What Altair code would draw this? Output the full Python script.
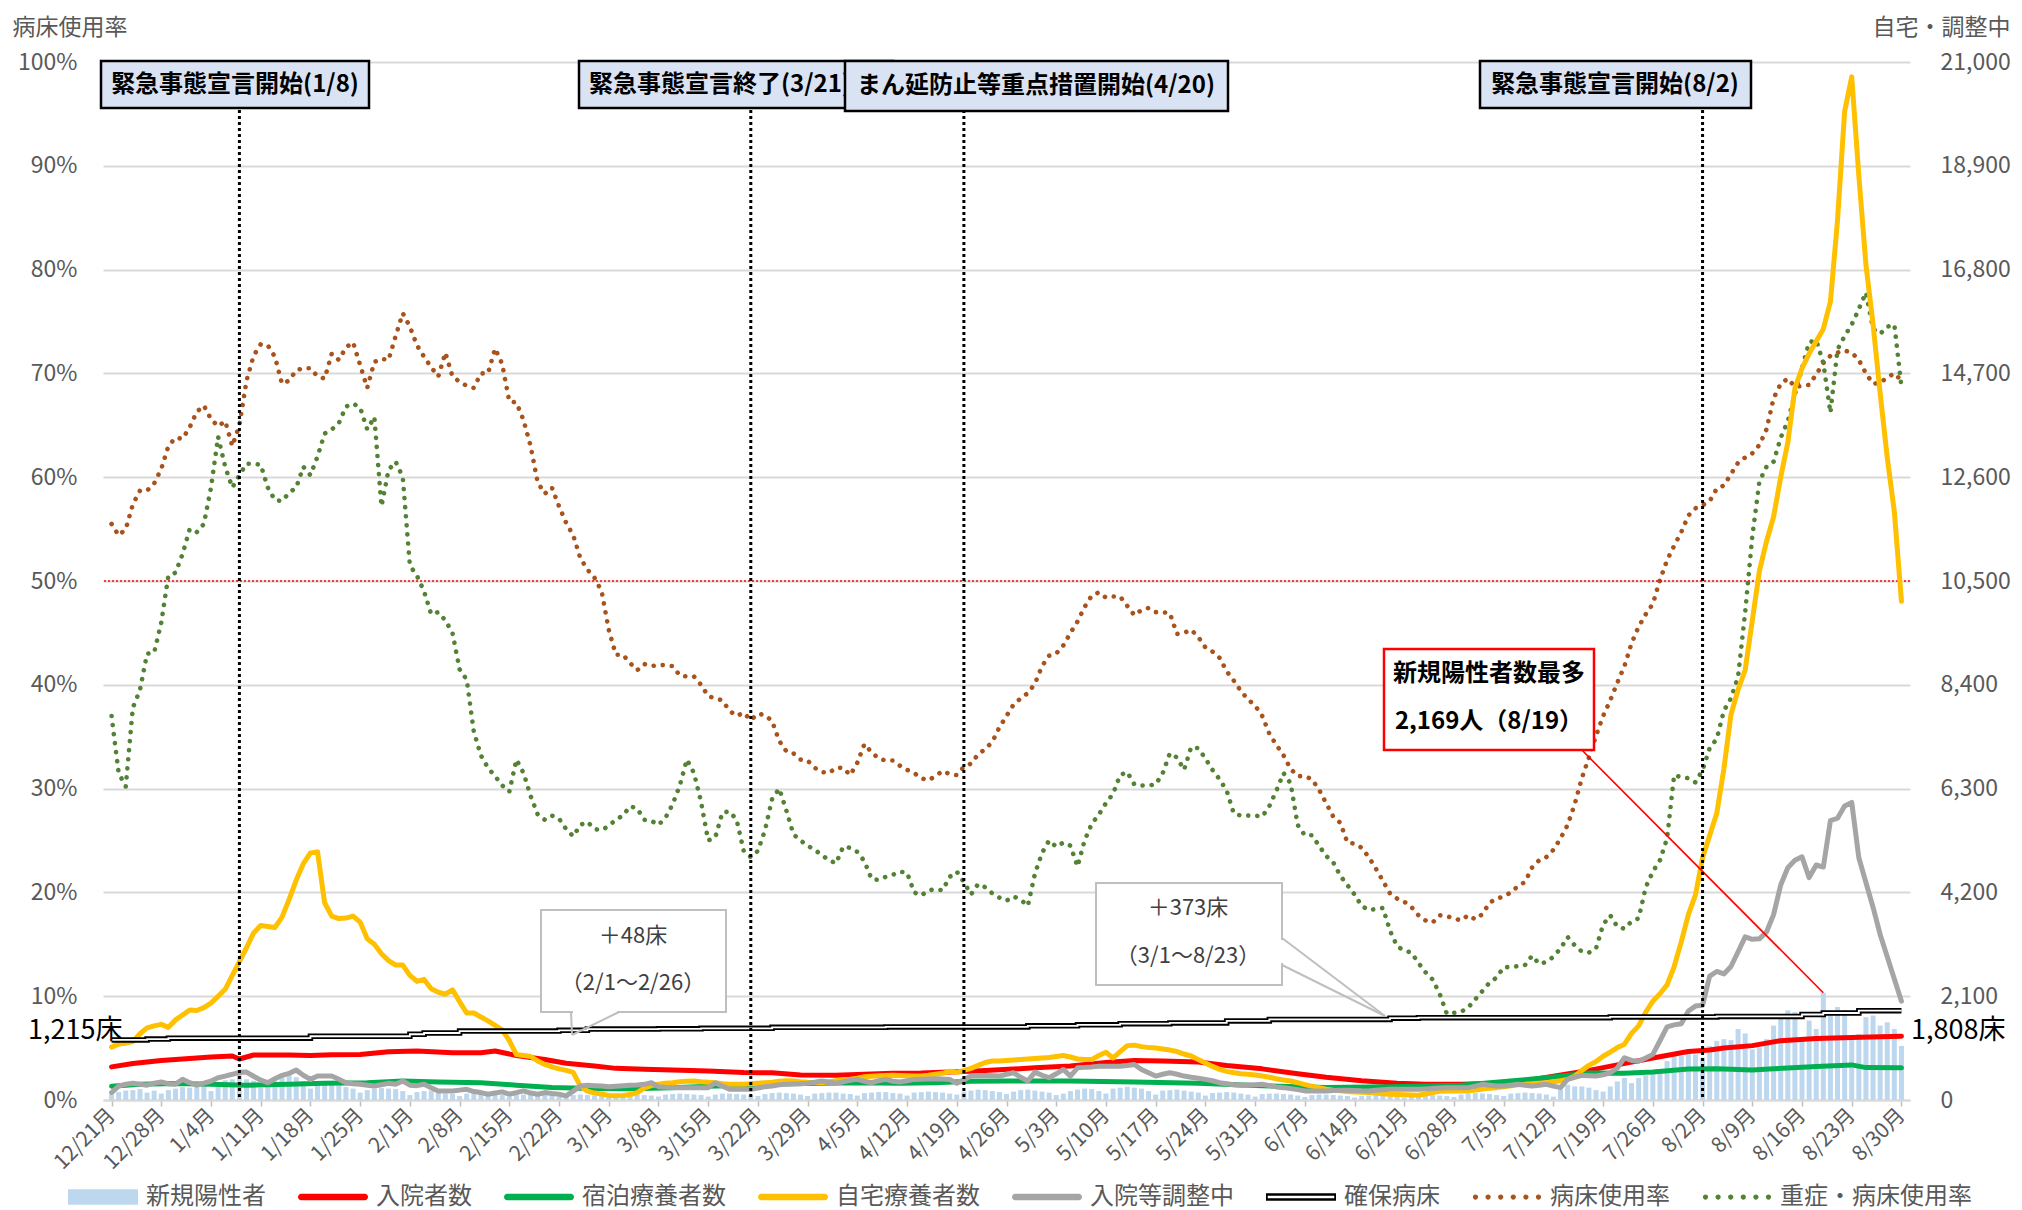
import altair as alt
import pandas as pd

FONT = "Noto Sans CJK JP"
TXT = "#595959"
GRID = "#D9D9D9"

START = "2020-12-21"

# ---- daily series (12/21 -> 8/30) ----
NEW_CASES = [
    110, 160, 190, 200, 220, 150, 190,
    130, 200, 230, 260, 250, 300, 280,
    180, 330, 400, 420, 580, 420, 390,
    250, 300, 380, 470, 520, 460, 380,
    230, 300, 330, 320, 300, 260, 230,
    150, 200, 230, 240, 230, 220, 180,
    100, 160, 180, 190, 150, 130, 120,
    80, 130, 120, 140, 120, 110, 100,
    70, 100, 110, 120, 120, 100, 90,
    60, 80, 100, 110, 100, 90, 80,
    60, 100, 110, 120, 110, 100, 90,
    70, 110, 120, 130, 120, 110, 100,
    70, 110, 130, 130, 120, 110, 100,
    80, 120, 140, 150, 140, 130, 110,
    80, 130, 140, 150, 150, 130, 120,
    90, 140, 150, 160, 160, 140, 130,
    90, 150, 160, 170, 160, 150, 130,
    110, 170, 190, 210, 200, 180, 160,
    120, 170, 200, 210, 190, 170, 150,
    100, 130, 180, 210, 230, 220, 180,
    130, 230, 250, 270, 250, 230, 180,
    110, 190, 200, 210, 190, 170, 150,
    90, 140, 150, 160, 150, 130, 110,
    70, 120, 130, 130, 120, 110, 90,
    60, 100, 110, 110, 100, 90, 80,
    50, 80, 90, 100, 90, 80, 70,
    50, 80, 100, 110, 100, 90, 80,
    60, 110, 130, 140, 130, 120, 100,
    80, 130, 140, 150, 140, 130, 110,
    68, 205, 308, 274, 274, 250, 200,
    171, 274, 376, 445, 342, 445, 500,
    547, 581, 787, 923, 889, 958, 923,
    855, 1094, 1197, 1231, 1211, 1436, 1347,
    1026, 1060, 1231, 1505, 1642, 1813, 1778,
    1265, 1607, 1436, 2169, 1813, 1881, 1813,
    1300, 1334, 1676, 1710, 1505, 1573, 1436,
    1094,
]

BED_RATE = [
    55.5, 54.4, 55.0, 57.4, 58.7, 58.7, 59.4, 60.8, 63.0, 63.8,
    63.7, 64.8, 66.3, 66.9, 65.6, 64.9, 65.4, 63.0, 65.0, 69.3,
    71.7, 72.8, 72.7, 71.6, 69.0, 69.3, 70.3, 70.5, 70.5, 69.7,
    69.5, 71.9, 71.3, 72.5, 73.0, 70.8, 68.6, 71.1, 71.4, 71.3,
    73.6, 75.8, 74.5, 72.7, 71.6, 70.6, 69.7, 72.0, 69.7, 69.2,
    68.8, 68.6, 70.0, 70.0, 72.4, 70.9, 67.3, 67.2, 65.5, 63.0,
    59.5, 58.4, 59.0, 57.2, 55.6, 54.4, 52.2, 51.1, 50.3, 49.0,
    45.3, 42.9, 42.9, 42.1, 41.4, 42.0, 41.8, 41.9, 41.9, 41.8,
    40.9, 40.8, 40.8, 40.0, 38.9, 38.7, 38.5, 37.5, 37.0, 37.3,
    36.6, 37.2, 37.1, 36.5, 34.6, 33.6, 33.4, 32.8, 32.7, 32.0,
    31.6, 31.5, 32.0, 32.0, 31.3, 32.5, 34.3, 33.5, 32.9, 32.7,
    32.7, 32.2, 31.8, 31.5, 31.0, 30.8, 31.2, 31.7, 31.4, 31.3,
    32.1, 32.4, 33.3, 33.8, 34.5, 35.9, 37.0, 38.1, 38.7, 39.2,
    40.1, 41.8, 42.8, 43.0, 43.8, 45.0, 46.1, 47.5, 48.6, 48.9,
    48.4, 48.5, 48.5, 47.6, 46.7, 47.2, 47.4, 47.0, 47.0, 46.9,
    44.9, 45.0, 45.3, 44.6, 43.6, 43.2, 42.6, 41.3, 40.4, 39.4,
    38.6, 38.0, 37.0, 35.3, 34.2, 33.2, 31.9, 31.2, 31.2, 30.9,
    29.9, 28.6, 27.3, 26.7, 24.8, 24.7, 24.3, 23.4, 22.3, 21.1,
    19.9, 19.4, 19.1, 18.6, 17.8, 17.3, 17.1, 17.8, 17.7, 17.5,
    17.3, 17.8, 17.4, 17.9, 19.0, 19.4, 19.6, 20.0, 20.6, 21.0,
    22.4, 23.1, 23.4, 24.1, 25.2, 26.5, 28.5, 31.0, 33.0, 35.1,
    37.0, 38.5, 40.2, 41.8, 44.0, 45.6, 46.8, 47.8, 50.1, 52.0,
    53.4, 54.7, 56.3, 57.0, 57.3, 57.7, 58.9, 59.2, 60.3, 61.4,
    61.9, 62.3, 63.1, 64.6, 67.6, 69.0, 69.5, 68.7, 68.8, 68.9,
    69.9, 71.0, 71.7, 72.0, 72.2, 72.0, 71.3, 70.0, 69.0, 69.1,
    69.6, 70.0, 69.3,
]

SEVERE_RATE = [
    37.0, 31.5, 30.2, 37.8, 39.5, 43.0, 43.1, 46.0, 50.5, 50.8,
    52.6, 55.0, 54.7, 55.5, 59.0, 63.9, 61.0, 59.0, 60.2, 61.3,
    61.3, 61.2, 59.0, 57.8, 57.7, 58.5, 59.0, 61.0, 60.2, 62.0,
    64.2, 64.6, 65.2, 66.8, 67.1, 66.7, 64.6, 65.8, 57.2, 60.7,
    61.5, 60.0, 51.5, 50.5, 49.0, 46.8, 47.0, 46.2, 45.0, 41.5,
    40.5, 35.5, 33.2, 32.0, 31.2, 30.3, 29.7, 32.8, 31.5, 29.3,
    27.5, 27.0, 27.4, 27.1, 26.1, 25.4, 26.5, 26.8, 26.1, 26.0,
    26.4, 27.0, 27.4, 28.3, 28.1, 27.0, 26.9, 26.5, 27.2, 28.5,
    30.3, 32.8, 31.5, 28.7, 25.0, 25.3, 27.7, 27.8, 27.0, 24.0,
    23.4, 24.0, 26.0, 29.0, 30.0, 27.9, 25.6, 25.0, 24.5, 24.1,
    23.6, 23.1, 22.8, 24.4, 24.3, 23.9, 23.0, 21.3, 21.2, 21.5,
    21.7, 22.0, 21.9, 20.0, 19.7, 20.2, 20.3, 20.2, 21.5, 22.0,
    21.0, 19.8, 20.8, 20.5, 19.9, 19.5, 19.2, 19.6, 19.3, 18.7,
    21.8, 23.8, 25.0, 24.4, 24.8, 24.5, 22.5, 25.0, 26.6, 27.5,
    28.6, 29.5, 31.3, 31.6, 30.4, 30.3, 30.3, 30.4, 31.5, 33.4,
    33.0, 31.8, 34.0, 33.9, 32.9, 31.8, 30.9, 29.8, 27.6, 27.4,
    27.4, 27.4, 27.3, 28.3, 29.8, 31.5, 30.5, 26.5, 25.5, 25.5,
    24.5, 23.5, 22.9, 21.6, 20.7, 19.8, 18.7, 18.3, 18.4, 18.5,
    16.3, 14.8, 14.4, 14.2, 13.2, 12.3, 11.6, 10.2, 8.3, 8.4,
    8.5, 8.9, 9.7, 10.5, 11.3, 11.8, 12.8, 12.8, 12.9, 13.0,
    13.9, 13.1, 13.3, 13.8, 14.6, 15.7, 14.9, 14.3, 14.2, 14.6,
    16.9, 17.8, 16.7, 16.5, 17.2, 17.5, 20.5, 22.0, 23.1, 25.2,
    31.3, 31.1, 31.0, 30.6, 31.8, 33.9, 34.8, 37.5, 38.7, 40.8,
    47.0, 54.3, 59.6, 61.0, 61.5, 63.8, 65.4, 68.0, 70.5, 73.0,
    73.2, 71.0, 66.2, 72.3, 73.6, 74.7, 76.2, 77.8, 74.3, 73.8,
    74.5, 74.7, 68.7,
]

HOME = [
    1070, 1130, 1150, 1180, 1340, 1460, 1500, 1530, 1470, 1620,
    1720, 1820, 1810, 1870, 1960, 2100, 2240, 2520, 2800, 3080,
    3380, 3530, 3510, 3490, 3700, 4060, 4450, 4780, 5000, 5020,
    3990, 3720, 3670, 3680, 3720, 3600, 3260, 3150, 2960, 2820,
    2730, 2730, 2520, 2400, 2440, 2250, 2180, 2140, 2230, 1990,
    1760, 1760, 1680, 1600, 1510, 1420, 1200, 920, 900, 880,
    790, 720, 670, 630, 600, 560, 280, 180, 140, 120,
    90, 85, 90, 110, 150, 240, 290, 320, 340, 350,
    370, 380, 385, 370, 360, 350, 330, 320, 320, 320,
    330, 340, 350, 360, 380, 390, 385, 370, 360, 355,
    350, 370, 390, 410, 420, 440, 470, 480, 490, 495,
    500, 495, 490, 485, 484, 500, 520, 540, 580, 560,
    600, 640, 700, 760, 790, 790, 800, 810, 820, 830,
    840, 850, 860, 880, 900, 870, 830, 820, 818, 900,
    965, 851, 980, 1100, 1110, 1080, 1060, 1050, 1030, 1010,
    980, 930, 890, 820, 750, 680, 620, 580, 550, 530,
    520, 505, 485, 460, 430, 405, 385, 350, 310, 280,
    250, 220, 200, 185, 170, 160, 155, 150, 140, 125,
    118, 110, 105, 100, 97, 120, 150, 175, 184, 184,
    184, 184, 200, 220, 240, 250, 270, 290, 310, 317,
    330, 340, 350, 370, 390, 417, 480, 600, 700, 780,
    885, 970, 1060, 1130, 1350, 1500, 1780, 2000, 2150, 2330,
    2700, 3200, 3750, 4150, 4900, 5350, 5800, 6700, 7800, 8300,
    8700, 9700, 10700, 11300, 11800, 12600, 13300, 14400, 14800, 15100,
    15350, 15600, 16150, 17800, 20000, 20700, 18700, 16900, 15700, 14300,
    13000, 11900, 10090,
]

ADJUST = [
    150, 280, 320, 340, 320, 300, 340, 364, 330, 320,
    417, 350, 300, 340, 384, 450, 484, 520, 560, 564,
    480, 400, 350, 430, 500, 540, 604, 500, 417, 484,
    484, 484, 420, 350, 330, 317, 300, 284, 310, 337,
    317, 384, 300, 290, 317, 250, 184, 184, 184, 200,
    217, 170, 150, 117, 140, 164, 117, 150, 184, 140,
    117, 150, 130, 117, 83, 180, 284, 297, 290, 284,
    270, 280, 290, 297, 305, 317, 350, 270, 260, 255,
    250, 250, 250, 250, 250, 350, 280, 217, 217, 217,
    217, 240, 270, 284, 310, 317, 325, 330, 337, 360,
    384, 360, 337, 370, 400, 417, 380, 350, 390, 417,
    380, 364, 390, 417, 420, 425, 431, 425, 417, 337,
    410, 484, 490, 498, 490, 484, 520, 551, 460, 384,
    564, 500, 451, 530, 618, 484, 651, 660, 670, 685,
    685, 685, 685, 700, 718, 618, 550, 484, 520, 551,
    520, 484, 460, 440, 417, 390, 350, 330, 310, 297,
    305, 310, 317, 290, 265, 250, 230, 210, 184, 184,
    184, 184, 190, 195, 197, 190, 185, 184, 195, 205,
    217, 217, 217, 217, 217, 225, 235, 245, 250, 250,
    250, 250, 280, 317, 300, 284, 284, 300, 317, 300,
    284, 300, 317, 280, 250, 417, 460, 498, 490, 484,
    510, 551, 648, 854, 800, 785, 850, 923, 1199, 1480,
    1520, 1543, 1800, 1900, 1915, 2508, 2600, 2550, 2700, 3000,
    3300, 3250, 3260, 3400, 3750, 4350, 4700, 4850, 4919, 4500,
    4754, 4713, 5650, 5700, 5950, 6021, 4900, 4400, 3900, 3350,
    2900, 2450, 2000,
]

# ---- sparser series ----
HOSP_DATES = ["12/21", "12/24", "12/28", "1/1", "1/4", "1/7", "1/8", "1/10", "1/15", "1/18",
              "1/21", "1/25", "1/29", "2/2", "2/7", "2/11", "2/13", "2/16", "2/20", "2/23",
              "2/27", "3/2", "3/6", "3/10", "3/15", "3/20", "3/24", "3/28", "4/2", "4/6",
              "4/10", "4/14", "4/18", "4/21", "4/25", "4/30", "5/5", "5/10", "5/14", "5/18",
              "5/23", "5/27", "6/1", "6/6", "6/10", "6/15", "6/20", "6/24", "6/29", "7/3",
              "7/8", "7/12", "7/17", "7/21", "7/26", "7/31", "8/3", "8/5", "8/9", "8/13",
              "8/18", "8/23", "8/27", "8/30"]
HOSP = [670, 740, 800, 840, 870, 890, 830, 910, 910, 900,
        915, 920, 975, 990, 955, 955, 990, 900, 820, 745,
        690, 640, 620, 605, 585, 555, 550, 505, 500, 520,
        540, 545, 565, 580, 610, 650, 690, 760, 800, 790,
        770, 700, 630, 530, 460, 390, 340, 320, 318, 335,
        385, 480, 600, 710, 850, 980, 1010, 1050, 1100, 1200,
        1245, 1265, 1280, 1290]

HOTEL_DATES = ["12/21", "12/25", "12/30", "1/4", "1/9", "1/15", "1/20", "1/26", "1/31", "2/5",
               "2/11", "2/16", "2/21", "2/27", "3/4", "3/10", "3/15", "3/20", "3/26", "3/31",
               "4/5", "4/11", "4/16", "4/21", "4/26", "5/5", "5/14", "5/23", "6/1", "6/10",
               "6/19", "6/29", "7/8", "7/13", "7/17", "7/22", "7/26", "7/31", "8/4", "8/9",
               "8/12", "8/18", "8/23", "8/25", "8/30"]
HOTEL = [280, 317, 335, 317, 300, 317, 337, 350, 384, 364,
         350, 300, 255, 232, 230, 250, 280, 297, 330, 337,
         350, 337, 350, 380, 384, 384, 364, 337, 290, 255,
         270, 297, 410, 480, 545, 540, 565, 625, 630, 605,
         630, 680, 710, 655, 650]

BEDS_DATES = ["12/21", "12/26", "12/29", "1/18", "2/1", "2/3", "2/8", "2/22", "2/26", "3/8",
              "3/14", "3/24", "4/9", "4/29", "5/6", "5/12", "5/19", "5/27", "6/2", "6/19",
              "6/23", "7/20", "8/4", "8/16", "8/19", "8/24", "8/30"]
BEDS = [1215, 1232, 1250, 1290, 1330, 1355, 1395, 1410, 1435, 1440,
        1450, 1470, 1478, 1500, 1520, 1545, 1560, 1600, 1630, 1655,
        1665, 1680, 1690, 1730, 1760, 1808, 1808]

EVENT_DATES = ["1/8", "3/21", "4/20", "8/2"]

SERIES = ["新規陽性者", "入院者数", "宿泊療養者数", "自宅療養者数", "入院等調整中",
          "確保病床", "病床使用率", "重症・病床使用率"]
COLORS = ["#BDD7EE", "#FF0000", "#00B050", "#FFC000", "#A5A5A5",
          "#000000", "#A9531C", "#548235"]


def md(s):
    m, d = (int(v) for v in s.split("/"))
    return pd.Timestamp(2020 if m == 12 else 2021, m, d)


def daily(values):
    return pd.DataFrame({"date": pd.date_range(START, periods=len(values), freq="D"),
                         "value": values})


def sparse(dates, values):
    return pd.DataFrame({"date": [md(s) for s in dates], "value": values})


# ---- scales ----
XS = alt.Scale(domain=[alt.DateTime(year=2020, month=12, date=20, hours=12),
                       alt.DateTime(year=2021, month=8, date=30, hours=12)], nice=False)
TICKS = [alt.DateTime(year=t.year, month=t.month, date=t.day)
         for t in pd.date_range("2020-12-21", "2021-08-30", freq="7D")]
YL = alt.Scale(domain=[0, 100], nice=False)
YR = alt.Scale(domain=[0, 21000], nice=False)

x_axis = alt.Axis(values=TICKS, format="%-m/%-d月", labelAngle=-45, labelAlign="right",
                  labelBaseline="middle", labelFontSize=21, labelColor=TXT, labelFont=FONT,
                  labelPadding=6, labelFlush=False, labelOverlap=False, tickSize=6,
                  tickColor="#BFBFBF", tickWidth=1.5, domainColor=GRID, domainWidth=2,
                  grid=False, title=None)
X = alt.X("date:T", scale=XS, axis=x_axis)

yl_axis = alt.Axis(orient="left", values=list(range(0, 101, 10)), labelExpr="datum.value + '%'",
                   labelFontSize=23, labelColor=TXT, labelFont=FONT, labelPadding=26,
                   ticks=False, domain=False, grid=True, gridColor=GRID, gridWidth=2,
                   title="病床使用率", titleAngle=0, titleAlign="left", titleBaseline="middle",
                   titleX=-91, titleY=-35, titleFontSize=23, titleFontWeight="normal",
                   titleColor=TXT, titleFont=FONT)
yr_axis = alt.Axis(orient="right", values=list(range(0, 21001, 2100)),
                   labelExpr="format(datum.value, ',')",
                   labelFontSize=23, labelColor=TXT, labelFont=FONT, labelPadding=30,
                   labelAlign="left", ticks=False, domain=False, grid=False,
                   title="自宅・調整中", titleAngle=0, titleAlign="right", titleBaseline="middle",
                   titleX=100, titleY=-35, titleFontSize=23, titleFontWeight="normal",
                   titleColor=TXT, titleFont=FONT)

Y_L_MAIN = alt.Y("value:Q", scale=YL, axis=yl_axis)
Y_L = alt.Y("value:Q", scale=YL, axis=None)
Y_R_MAIN = alt.Y("value:Q", scale=YR, axis=yr_axis)
Y_R = alt.Y("value:Q", scale=YR, axis=None)

DOT = dict(strokeDash=[0.1, 9], strokeCap="round", strokeWidth=4.6)
SOLID = dict(strokeWidth=5, strokeJoin="round", strokeCap="round")

# ---- percentage (left axis) marks ----
bed_line = alt.Chart(daily(BED_RATE)).mark_line(color=COLORS[6], **DOT).encode(x=X, y=Y_L_MAIN)
sev_line = alt.Chart(daily(SEVERE_RATE)).mark_line(color=COLORS[7], **DOT).encode(x=X, y=Y_L)
line50 = alt.Chart(pd.DataFrame({"value": [50]})).mark_rule(
    color="#FF0000", strokeWidth=1.5, strokeDash=[2, 2]).encode(y=Y_L)

# ---- people (right axis) marks ----
bars = alt.Chart(daily(NEW_CASES)).mark_bar(color=COLORS[0], size=5).encode(x=X, y=Y_R_MAIN)
red = alt.Chart(sparse(HOSP_DATES, HOSP)).mark_line(color=COLORS[1], **SOLID).encode(x=X, y=Y_R)
green = alt.Chart(sparse(HOTEL_DATES, HOTEL)).mark_line(color=COLORS[2], **SOLID).encode(x=X, y=Y_R)
yellow = alt.Chart(daily(HOME)).mark_line(color=COLORS[3], **SOLID).encode(x=X, y=Y_R)
gray = alt.Chart(daily(ADJUST)).mark_line(color=COLORS[4], **SOLID).encode(x=X, y=Y_R)
beds_df = sparse(BEDS_DATES, BEDS)
beds_outer = alt.Chart(beds_df).mark_line(color="#000000", strokeWidth=5.5,
                                          interpolate="step-after").encode(x=X, y=Y_R)
beds_inner = alt.Chart(beds_df).mark_line(color="#FFFFFF", strokeWidth=1.8,
                                          interpolate="step-after").encode(x=X, y=Y_R)
leader_df = pd.DataFrame({"date": [pd.Timestamp("2021-07-16")], "value": [7080],
                          "date2": [md("8/19")], "value2": [2169]})
leader = alt.Chart(leader_df).mark_rule(color="#FF0000", strokeWidth=1.6).encode(
    x=X, y=Y_R, x2="date2:T", y2="value2:Q")

# ---- annotations ----
ONE = pd.DataFrame({"k": [0]})


def rect(x0, x1, y0, y1, fill, stroke, sw):
    return alt.Chart(ONE).mark_rect(fill=fill, stroke=stroke, strokeWidth=sw).encode(
        x=alt.value(x0), x2=alt.value(x1), y=alt.value(y0), y2=alt.value(y1))


def txt(s, x, y, size, bold=False, color="#000000", align="center"):
    return alt.Chart(ONE).mark_text(text=s, font=FONT, fontSize=size,
                                    fontWeight="bold" if bold else "normal",
                                    color=color, align=align, baseline="middle").encode(
        x=alt.value(x), y=alt.value(y))


def seg(x0, y0, x1, y1, color, w):
    return alt.Chart(ONE).mark_rule(color=color, strokeWidth=w).encode(
        x=alt.value(x0), y=alt.value(y0), x2=alt.value(x1), y2=alt.value(y1))


events = alt.Chart(pd.DataFrame({"date": [md(s) for s in EVENT_DATES]})).mark_rule(
    color="#000000", strokeWidth=3, strokeDash=[3, 3]).encode(
    x=X, y=alt.value(0), y2=alt.value(1038))

BOXFILL = "#DAE3F3"
annots = [
    events,
    rect(-2, 266, -1, 46, BOXFILL, "#000000", 2.5),
    txt("緊急事態宣言開始(1/8)", 132, 23, 24, bold=True),
    rect(476, 790, -1, 46, BOXFILL, "#000000", 2.5),
    txt("緊急事態宣言終了(3/21)", 486, 23, 24, bold=True, align="left"),
    rect(742, 1125, -1, 49, BOXFILL, "#000000", 2.5),
    txt("まん延防止等重点措置開始(4/20)", 933, 24, 24, bold=True),
    rect(1377, 1648, -1, 46, BOXFILL, "#000000", 2.5),
    txt("緊急事態宣言開始(8/2)", 1512, 23, 24, bold=True),
    # +48 callout
    rect(438, 623, 848, 950, "#FFFFFF", "#BFBFBF", 2),
    seg(470, 950, 514, 950, "#FFFFFF", 3),
    seg(468, 950, 469, 973, "#BFBFBF", 2),
    seg(516, 950, 469, 973, "#BFBFBF", 2),
    txt("＋48床", 530, 874, 22, color="#404040"),
    txt("（2/1～2/26）", 530, 921, 22, color="#404040"),
    # +373 callout
    rect(993, 1179, 821, 923, "#FFFFFF", "#BFBFBF", 2),
    seg(1179, 878, 1179, 901, "#FFFFFF", 3),
    seg(1179, 876, 1282, 954, "#BFBFBF", 2),
    seg(1179, 903, 1282, 954, "#BFBFBF", 2),
    txt("＋373床", 1085, 846, 22, color="#404040"),
    txt("（3/1～8/23）", 1085, 894, 22, color="#404040"),
    # max new cases callout
    rect(1281, 1491, 587, 688, "#FFFFFF", "#FF0000", 2.5),
    txt("新規陽性者数最多", 1386, 612, 24, bold=True),
    txt("2,169人（8/19）", 1386, 660, 24, bold=True),
    # bed labels
    txt("1,215床", -75, 969, 27, align="left"),
    txt("1,808床", 1808, 969, 27, align="left"),
    # chart frame line at far left
    seg(-100, -62, -100, 1150, "#C8C8C8", 2),
]

# ---- legend (custom symbols) ----
def dots(n=6, r=0.075):
    out = []
    for i in range(n):
        c = -0.9 + i * 1.8 / (n - 1)
        out.append(f"M{c - r:.3f},0A{r},{r} 0 1,0 {c + r:.3f},0A{r},{r} 0 1,0 {c - r:.3f},0Z")
    return " ".join(out)


LINE_SYM = "M-0.91,-0.09H0.91A0.09,0.09 0 0 1 0.91,0.09H-0.91A0.09,0.09 0 0 1 -0.91,-0.09Z"
SHAPES = [
    "M-1,-0.22H1V0.22H-1Z",
    LINE_SYM, LINE_SYM, LINE_SYM, LINE_SYM,
    "M-1,-0.11H1V0.11H-1Z M-0.95,-0.035V0.035H0.95V-0.035Z",
    dots(), dots(),
]
LEG = alt.Legend(title=None, orient="none", legendX=-35, legendY=1100, direction="horizontal",
                 columns=8, symbolSize=4900, symbolStrokeWidth=0, symbolOpacity=1,
                 labelFont=FONT, labelFontSize=24, labelColor=TXT, labelOffset=8,
                 labelLimit=400, columnPadding=32, padding=0, rowPadding=0)
legend_layer = alt.Chart(pd.DataFrame({"series": SERIES})).mark_point(
    filled=True, opacity=1).encode(
    x=alt.value(-3000), y=alt.value(-3000),
    color=alt.Color("series:N", scale=alt.Scale(domain=SERIES, range=COLORS), legend=LEG),
    shape=alt.Shape("series:N", scale=alt.Scale(domain=SERIES, range=SHAPES), legend=LEG),
)

chart = alt.layer(
    bed_line, sev_line, line50,
    bars, red, green, yellow, gray, beds_outer, beds_inner, leader,
    *annots, legend_layer,
).resolve_scale(
    y="independent"
).properties(
    width=1807, height=1038,
    padding={"left": 95, "top": 54, "right": 104, "bottom": 110},
    autosize=alt.AutoSizeParams(type="none"),
).configure_view(stroke=None)

chart.save("out.html", embed_options={"renderer": "svg", "actions": False})
